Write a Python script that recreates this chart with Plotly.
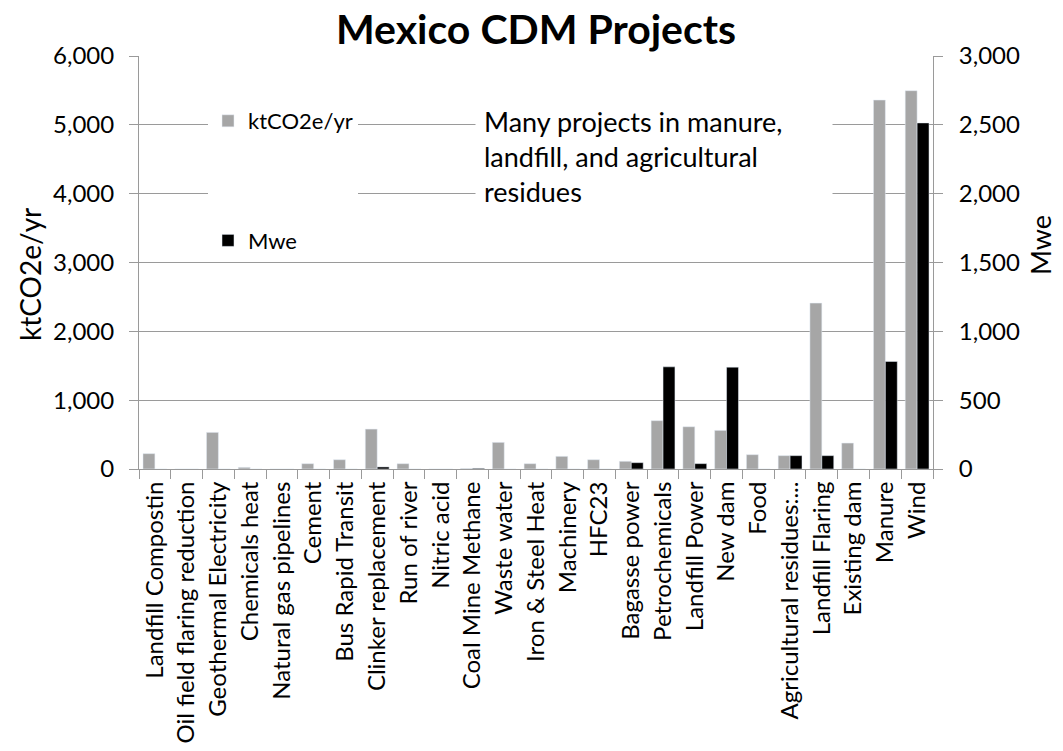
import plotly.graph_objects as go

categories = [
    "Landfill Compostin", "Oil field flaring reduction", "Geothermal Electricity",
    "Chemicals heat", "Natural gas pipelines", "Cement", "Bus Rapid Transit",
    "Clinker replacement", "Run of river", "Nitric acid", "Coal Mine Methane",
    "Waste water", "Iron & Steel Heat", "Machinery", "HFC23", "Bagasse power",
    "Petrochemicals", "Landfill Power", "New dam", "Food",
    "Agricultural residues:...", "Landfill Flaring", "Existing dam", "Manure", "Wind",
]
kt_co2e = [223, 0, 532, 24, 0, 77, 135, 580, 77, 0, 8, 387, 77, 184, 135, 112,
           702, 614, 561, 208, 194, 2410, 377, 5360, 5496]
mwe = [0, 0, 0, 0, 0, 0, 0, 15, 0, 0, 5, 0, 0, 0, 0, 46,
       742, 39, 740, 0, 97, 97, 0, 781, 2514]
left_ticks = [0, 1000, 2000, 3000, 4000, 5000, 6000]
right_ticks = [0, 500, 1000, 1500, 2000, 2500, 3000]

FONT = "Lato"
W, H = 1063, 751
L, R, T, B = 139, 130, 56, 282
pw, ph = W - L - R, H - T - B


def px_x(x):
    return (x - L) / pw


def px_y(y):
    return (H - B - y) / ph


fig = go.Figure()
fig.add_trace(go.Bar(
    x=categories, y=kt_co2e, name="ktCO2e/yr", marker_color="#a6a6a6",
    offsetgroup="1", legendgroup="a", yaxis="y",
))
fig.add_trace(go.Bar(
    x=categories, y=mwe, name="Mwe", marker_color="#000000",
    offsetgroup="2", legendgroup="b", yaxis="y2",
))

fig.update_layout(
    width=W, height=H,
    margin=dict(l=L, r=R, t=T, b=B, autoexpand=False),
    paper_bgcolor="white", plot_bgcolor="white",
    barmode="group", bargap=0.25, bargroupgap=0,
    font=dict(family=FONT, color="#000000"),
    title=dict(text="<b>Mexico CDM Projects</b>", x=536 / W, xanchor="center",
               y=1 - 30 / H, yanchor="middle", yref="container",
               font=dict(family=FONT, size=41, color="#000000")),
    xaxis=dict(
        type="category", tickangle=-90, tickson="boundaries",
        ticks="outside", ticklen=9, tickcolor="#9a9a9a",
        showline=True, linecolor="#9a9a9a", linewidth=1,
        showgrid=False, tickfont=dict(family=FONT, size=24, color="#000000"),
        ticklabelstandoff=2, automargin=False,
    ),
    yaxis=dict(
        range=[0, 6000], tickvals=left_ticks, tickformat=",",
        showgrid=True, gridcolor="#9a9a9a", gridwidth=1,
        showline=True, linecolor="#9a9a9a", linewidth=1,
        ticks="outside", ticklen=9, tickcolor="#9a9a9a",
        tickfont=dict(family=FONT, size=24, color="#000000"),
        ticklabelstandoff=10, zeroline=False, automargin=False,
    ),
    yaxis2=dict(
        range=[0, 3000], tickvals=right_ticks, tickformat=",",
        overlaying="y", side="right", showgrid=False,
        showline=True, linecolor="#9a9a9a", linewidth=1,
        ticks="outside", ticklen=9, tickcolor="#9a9a9a",
        tickfont=dict(family=FONT, size=24, color="#000000"),
        ticklabelstandoff=11, zeroline=False, automargin=False,
    ),
    legend=dict(
        x=px_x(208), xanchor="left", y=px_y(100), yanchor="top",
        bgcolor="white", borderwidth=0, tracegroupgap=88,
        font=dict(family=FONT, size=22, color="#000000"),
        traceorder="grouped",
    ),
    annotations=[
        dict(text="Many projects in manure,<br>landfill, and agricultural<br>residues",
             xref="paper", yref="paper", x=px_x(475), y=px_y(96),
             xanchor="left", yanchor="top", align="left", width=340,
             bgcolor="white", borderpad=8, showarrow=False,
             font=dict(family=FONT, size=27, color="#000000")),
        dict(text="ktCO2e/yr", xref="paper", yref="paper", x=px_x(30), y=px_y(275),
             xanchor="center", yanchor="middle", textangle=-90, showarrow=False,
             font=dict(family=FONT, size=28, color="#000000")),
        dict(text="Mwe", xref="paper", yref="paper", x=px_x(1040), y=px_y(245),
             xanchor="center", yanchor="middle", textangle=-90, showarrow=False,
             font=dict(family=FONT, size=27, color="#000000")),
    ],
)

fig.write_html("out.html")
